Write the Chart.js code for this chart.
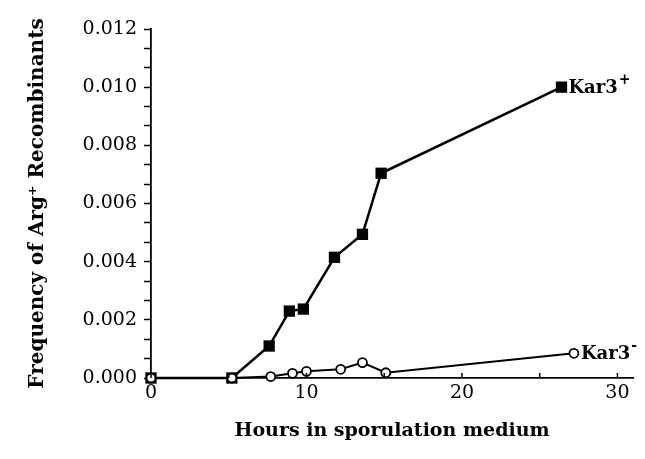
<!DOCTYPE html>
<html>
<head>
<meta charset="utf-8">
<script src="https://cdn.jsdelivr.net/npm/chart.js@4/dist/chart.umd.min.js"></script>
<style>
  html, body { margin: 0; padding: 0; background: #fff; }
  #wrap { width: 645px; height: 459px; }
</style>
</head>
<body>
<div id="wrap"><canvas id="chart"></canvas></div>
<script>
// hours in sporulation medium
const hoursPlus = [0, 5.2, 7.6, 8.9, 9.8, 11.8, 13.6, 14.8, 26.4];
const freqPlus = [0, 0, 0.0011, 0.0023, 0.00237, 0.00415, 0.00494, 0.00704, 0.0100];
const hoursMinus = [0, 5.2, 7.7, 9.1, 10.0, 12.2, 13.6, 15.1, 27.2];
const freqMinus = [0, 0, 0.00005, 0.00016, 0.00023, 0.0003, 0.00053, 0.00018, 0.00085];
const seriesNames = ['Kar3', 'Kar3'];
const seriesSup = ['-', '+'];
const yTicks = [0, 0.002, 0.004, 0.006, 0.008, 0.010, 0.012];
const xTickValues = [0, 5, 10, 15, 20, 25, 30];
const xTicks = [0, 10, 20, 30];

const serif = "'DejaVu Serif', serif";

const toPoints = (xs, ys) => xs.map((x, i) => ({ x: x, y: ys[i] }));

// small inward tick marks on the x axis
const xTickMarks = {
	id: 'xTickMarks',
	afterDraw(chart) {
		const ctx = chart.ctx;
		const xs = chart.scales.x;
		const bottom = chart.chartArea.bottom;
		ctx.save();
		ctx.strokeStyle = '#000';
		ctx.lineWidth = 1.5;
		xs.ticks.forEach((t) => {
			const px = xs.getPixelForValue(t.value);
			ctx.beginPath();
			ctx.moveTo(px, bottom);
			ctx.lineTo(px, bottom - 5);
			ctx.stroke();
		});
		ctx.restore();
	},
};

// Kar3+ / Kar3- labels next to the last point
const endLabels = {
	id: 'endLabels',
	afterDatasetsDraw(chart) {
		const ctx = chart.ctx;
		ctx.save();
		ctx.fillStyle = '#000';
		ctx.textBaseline = 'middle';
		chart.data.datasets.forEach((ds, i) => {
			const meta = chart.getDatasetMeta(i);
			const pt = meta.data[meta.data.length - 1];
			const x = pt.x + 7;
			ctx.font = 'bold 18px ' + serif;
			ctx.fillText(seriesNames[i], x, pt.y + 1);
			const w = ctx.measureText(seriesNames[i]).width;
			ctx.font = 'bold 14px ' + serif;
			ctx.fillText(seriesSup[i], x + w + 1, pt.y - 7);
		});
		ctx.restore();
	},
};

new Chart(document.getElementById('chart'), {
	type: 'line',
	data: {
		datasets: [
			{
				label: 'Kar3-',
				data: toPoints(hoursMinus, freqMinus),
				borderColor: '#000',
				borderWidth: 2,
				pointStyle: 'circle',
				pointRadius: 4.5,
				pointBorderWidth: 1.8,
				pointBackgroundColor: '#fff',
				pointBorderColor: '#000',
				tension: 0,
				clip: false,
			},
			{
				label: 'Kar3+',
				data: toPoints(hoursPlus, freqPlus),
				borderColor: '#000',
				borderWidth: 2.5,
				pointStyle: 'rect',
				pointRadius: 8,
				pointBorderWidth: 0,
				pointBackgroundColor: '#000',
				pointBorderColor: '#000',
				tension: 0,
				clip: false,
			},
		],
	},
	options: {
		responsive: true,
		maintainAspectRatio: false,
		animation: false,
		layout: { padding: { top: 29, right: 12, left: 0, bottom: 0 } },
		plugins: {
			legend: { display: false },
			tooltip: { enabled: false },
		},
		scales: {
			x: {
				type: 'linear',
				min: 0,
				max: 31,
				afterFit: (scale) => { scale.height = 81; },
				afterBuildTicks: (scale) => {
					scale.ticks = xTickValues.map((v) => ({ value: v }));
				},
				ticks: {
					autoSkip: false,
					color: '#000',
					padding: 4,
					maxRotation: 0,
					font: { family: serif, size: 19 },
					callback: (v) => (xTicks.includes(v) ? v : ''),
				},
				grid: { display: false, drawTicks: false },
				border: { display: true, color: '#000', width: 1.8 },
				title: {
					display: true,
					text: 'Hours in sporulation medium',
					color: '#000',
					font: { family: serif, size: 19, weight: 'bold' },
					padding: { bottom: 17 },
				},
			},
			y: {
				min: 0,
				max: 0.012,
				afterFit: (scale) => { scale.width = 151; },
				ticks: {
					stepSize: 0.002 / 3,
					autoSkip: false,
					color: '#000',
					padding: 7,
					font: { family: serif, size: 19 },
					callback: (v, i) => (i % 3 === 0 ? yTicks[i / 3].toFixed(3) : ''),
				},
				grid: {
					drawOnChartArea: false,
					drawTicks: true,
					tickLength: 7,
					color: '#000',
					tickWidth: 1.5,
				},
				border: { display: true, color: '#000', width: 1.8 },
				title: {
					display: true,
					text: 'Frequency of Arg\u207A Recombinants',
					color: '#000',
					font: { family: serif, size: 20, weight: 'bold' },
					padding: { top: 26 },
				},
			},
		},
	},
	plugins: [xTickMarks, endLabels],
});
</script>
</body>
</html>
